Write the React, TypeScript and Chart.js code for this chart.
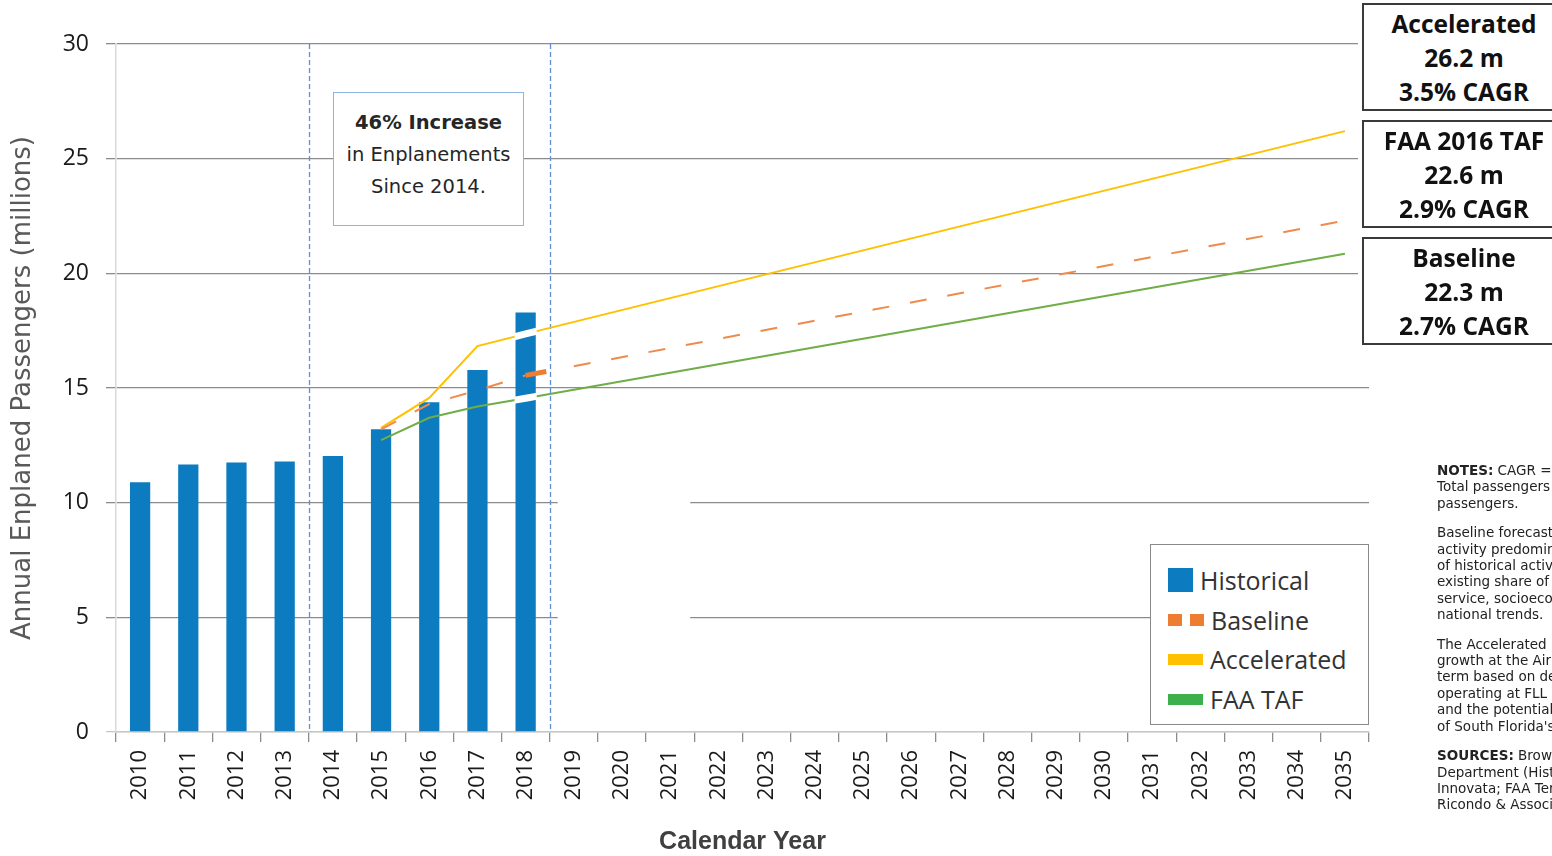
import React, { useEffect, useRef } from "react";
import { Chart, registerables } from "chart.js";

Chart.register(...registerables);

// ---------- data ----------
const years = [
  "2010", "2011", "2012", "2013", "2014", "2015", "2016", "2017", "2018",
  "2019", "2020", "2021", "2022", "2023", "2024", "2025", "2026", "2027",
  "2028", "2029", "2030", "2031", "2032", "2033", "2034", "2035",
];

const historical: (number | null)[] = [
  10.89, 11.66, 11.75, 11.79, 12.04, 13.2, 14.38, 15.79, 18.29,
  null, null, null, null, null, null, null, null, null,
  null, null, null, null, null, null, null, null,
];

const baseline: (number | null)[] = [
  null, null, null, null, null, 13.2, 14.3, 14.9, 15.55,
  15.95, null, null, null, null, null, null, null, null,
  null, null, null, null, null, null, null, 22.3,
];

const accelerated: (number | null)[] = [
  null, null, null, null, null, 13.26, 14.57, 16.83, 17.36,
  null, null, null, null, null, null, null, null, null,
  null, null, null, null, null, null, null, 26.2,
];

const faaTaf: (number | null)[] = [
  null, null, null, null, null, 12.73, 13.7, 14.19, 14.55,
  null, null, null, null, null, null, null, null, null,
  null, null, null, null, null, null, null, 20.85,
];

const seriesLabels = ["Historical", "Baseline", "Accelerated", "FAA TAF"];
const yTicksMax = 30;
const yTickStep = 5;
const yTitle = "Annual Enplaned Passengers (millions)";
const xTitle = "Calendar Year";
const increaseSinceYear = "2014";
const annotationLines = ["46% Increase", "in Enplanements", "Since 2014."];
const forecastBoxes = [
  ["Accelerated", "26.2 m", "3.5% CAGR"],
  ["FAA 2016 TAF", "22.6 m", "2.9% CAGR"],
  ["Baseline", "22.3 m", "2.7% CAGR"],
];
const notes: { bold?: string; lines: string[] }[] = [
  { bold: "NOTES:", lines: [" CAGR = Compound", "Total passengers", "passengers."] },
  {
    lines: [
      "Baseline forecast",
      "activity predominantly",
      "of historical activity",
      "existing share of South",
      "service, socioeconomic",
      "national trends.",
    ],
  },
  {
    lines: [
      "The Accelerated",
      "growth at the Airport",
      "term based on demand",
      "operating at FLL",
      "and the potential",
      "of South Florida's",
    ],
  },
  { bold: "SOURCES:", lines: ["  Broward", "Department (Historical)", "Innovata; FAA Terminal", "Ricondo & Associates"] },
];

// ---------- styles ----------
const BLUE = "#0c7bc0";
const ORANGE_LINE = "#ef8a4c";
const ORANGE = "#ed7d31";
const YELLOW = "#ffc000";
const GREEN_LINE = "#70ad47";
const legendColors = [BLUE, ORANGE, YELLOW, "#3cb04a"];

const lastHistIdx = (() => {
  let k = -1;
  historical.forEach((v, i) => {
    if (v != null) k = i;
  });
  return k;
})();

const overlayPlugin = {
  id: "overlayPlugin",
  beforeDatasetsDraw(chart: any) {
    const { ctx, chartArea } = chart;
    const xs = chart.scales.x;
    const ys = chart.scales.y;
    const half = (xs.getPixelForValue(1) - xs.getPixelForValue(0)) / 2;
    ctx.save();
    // gap in the lower gridlines right of the forecast start
    const gx0 = xs.getPixelForValue(lastHistIdx) + half + 8;
    const gx1 = xs.getPixelForValue(lastHistIdx + 3) + 20;
    const gy0 = ys.getPixelForValue(12.5);
    const gy1 = ys.getPixelForValue(3.5);
    ctx.fillStyle = "#ffffff";
    ctx.fillRect(gx0, gy0, gx1 - gx0, gy1 - gy0);
    // vertical dashed markers
    const markers = [
      xs.getPixelForValue(years.indexOf(increaseSinceYear)) - half,
      xs.getPixelForValue(lastHistIdx) + half,
    ];
    ctx.strokeStyle = "#5b8ed6";
    ctx.lineWidth = 1.3;
    ctx.setLineDash([5, 3]);
    markers.forEach((mx) => {
      ctx.beginPath();
      ctx.moveTo(Math.round(mx) + 0.5, chartArea.top);
      ctx.lineTo(Math.round(mx) + 0.5, chartArea.bottom);
      ctx.stroke();
    });
    ctx.restore();
  },
  afterDatasetsDraw(chart: any) {
    // white halo where accelerated / FAA TAF cross the last historical bar
    const { ctx } = chart;
    const barMeta = chart.getDatasetMeta(0);
    const bar = barMeta.data[lastHistIdx];
    if (!bar) return;
    const { x, y, base, width } = bar.getProps(["x", "y", "base", "width"], true);
    ctx.save();
    ctx.beginPath();
    ctx.rect(x - width / 2 - 1, y, width + 2, base - y);
    ctx.clip();
    [2, 3].forEach((di) => {
      const pts = chart.getDatasetMeta(di).data.filter((p: any) => !p.skip);
      ctx.beginPath();
      pts.forEach((p: any, i: number) => (i === 0 ? ctx.moveTo(p.x, p.y) : ctx.lineTo(p.x, p.y)));
      ctx.strokeStyle = "#ffffff";
      ctx.lineWidth = 7;
      ctx.stroke();
    });
    ctx.restore();
  },
};

export default function App() {
  const ref = useRef<HTMLCanvasElement>(null);

  useEffect(() => {
    if (!ref.current) return;
    const chart = new Chart(ref.current, {
      type: "bar",
      data: {
        labels: years,
        datasets: [
          {
            type: "bar",
            label: seriesLabels[0],
            data: historical,
            backgroundColor: BLUE,
            barPercentage: 0.42,
            categoryPercentage: 1,
            order: 1,
          },
          {
            type: "line",
            label: seriesLabels[1],
            data: baseline,
            borderColor: ORANGE_LINE,
            borderWidth: 2,
            borderDash: [17, 21],
            pointRadius: 0,
            spanGaps: true,
            tension: 0,
            order: 0,
            segment: {
              borderWidth: (c: any) => (c.p0DataIndex === lastHistIdx ? 5 : undefined),
              borderDash: (c: any) => (c.p0DataIndex === lastHistIdx ? [21, 400] : undefined),
              borderColor: (c: any) => (c.p0DataIndex === lastHistIdx ? ORANGE : undefined),
            },
          } as any,
          {
            type: "line",
            label: seriesLabels[2],
            data: accelerated,
            borderColor: YELLOW,
            borderWidth: 2,
            pointRadius: 0,
            spanGaps: true,
            tension: 0,
            order: 0,
          },
          {
            type: "line",
            label: seriesLabels[3],
            data: faaTaf,
            borderColor: GREEN_LINE,
            borderWidth: 2,
            pointRadius: 0,
            spanGaps: true,
            tension: 0,
            order: 0,
          },
        ],
      },
      options: {
        animation: false,
        responsive: true,
        maintainAspectRatio: false,
        layout: { padding: { left: 0, right: 183, top: 44, bottom: 0 } },
        plugins: { legend: { display: false }, tooltip: { enabled: false } },
        scales: {
          x: {
            type: "category",
            offset: true,
            grid: {
              display: true,
              drawOnChartArea: false,
              drawTicks: true,
              tickLength: 10,
              offset: true,
              color: "#8c8c8c",
              lineWidth: 1.3,
            },
            border: { display: true, color: "#c8c8c8", width: 1.5 },
            ticks: {
              autoSkip: false,
              maxRotation: 90,
              minRotation: 90,
              padding: 8,
              color: "#1a1a1a",
              font: { family: "Open Sans", size: 22 },
            },
            title: {
              display: true,
              text: xTitle,
              color: "#404040",
              font: { family: "Liberation Sans", size: 25, weight: "bold", lineHeight: 1 },
              padding: { top: 0, bottom: 1 },
            },
            afterFit: (s: any) => {
              s.height = 124;
            },
          },
          y: {
            min: 0,
            max: yTicksMax,
            ticks: {
              stepSize: yTickStep,
              padding: 17,
              color: "#1a1a1a",
              font: { family: "Open Sans", size: 23 },
            },
            grid: {
              color: (c: any) => (c.tick && c.tick.value === 0 ? "#c8c8c8" : "#8c8c8c"),
              lineWidth: 1.3,
              tickLength: 10,
              drawTicks: true,
            },
            border: { display: true, color: "#d9d9d9", width: 1.5 },
            title: {
              display: true,
              text: yTitle,
              color: "#595959",
              font: { family: "DejaVu Sans", size: 26, lineHeight: 1.2 },
              padding: { top: 8, bottom: 0 },
            },
            afterFit: (s: any) => {
              s.width = 116;
            },
          },
        },
      } as any,
      plugins: [overlayPlugin],
    });
    return () => chart.destroy();
  }, []);

  const swatch = (i: number) => {
    if (i === 0)
      return <div style={{ width: 25, height: 24, background: legendColors[0] }} />;
    if (i === 1)
      return (
        <div style={{ display: "flex", gap: 8, width: 36 }}>
          <div style={{ width: 14, height: 12, background: legendColors[1] }} />
          <div style={{ width: 14, height: 12, background: legendColors[1] }} />
        </div>
      );
    return <div style={{ width: 35, height: 11, background: legendColors[i] }} />;
  };

  return (
    <div
      style={{
        position: "fixed",
        left: 0,
        top: 0,
        width: 1552,
        height: 856,
        overflow: "hidden",
        background: "#ffffff",
      }}
    >
      <div style={{ position: "absolute", left: 0, top: 0, width: 1552, height: 856 }}>
        <canvas ref={ref} />
      </div>

      {/* annotation box */}
      <div
        style={{
          position: "absolute",
          left: 333,
          top: 92,
          width: 191,
          height: 134,
          boxSizing: "border-box",
          border: "1.5px solid #8db4e2",
          background: "#ffffff",
          fontFamily: "DejaVu Sans",
          fontSize: 19.5,
          lineHeight: "32px",
          color: "#262626",
          textAlign: "center",
          paddingTop: 14,
          whiteSpace: "nowrap",
        }}
      >
        {annotationLines.map((t, i) => (
          <div key={i} style={{ fontWeight: i === 0 ? 700 : 400 }}>
            {t}
          </div>
        ))}
      </div>

      {/* forecast boxes */}
      {forecastBoxes.map((lines, bi) => (
        <div
          key={bi}
          style={{
            position: "absolute",
            left: 1362,
            top: 3 + bi * 117,
            width: 204,
            height: 108,
            boxSizing: "border-box",
            border: "2px solid #3a3a3a",
            outline: "4px solid #ffffff",
            background: "#ffffff",
            fontFamily: "Open Sans",
            fontWeight: 700,
            fontSize: 24.5,
            lineHeight: "34px",
            color: "#111111",
            textAlign: "center",
            paddingTop: 2,
            whiteSpace: "nowrap",
          }}
        >
          {lines.map((t, i) => (
            <div key={i}>{t}</div>
          ))}
        </div>
      ))}

      {/* legend */}
      <div
        style={{
          position: "absolute",
          left: 1150,
          top: 544,
          width: 219,
          height: 181,
          boxSizing: "border-box",
          border: "1.5px solid #8a8a8a",
          background: "#ffffff",
          fontFamily: "Open Sans",
          fontSize: 25,
          color: "#333333",
        }}
      >
        {seriesLabels.map((lab, i) => (
          <div
            key={lab}
            style={{
              position: "absolute",
              left: 17,
              top: 15 + i * 39.7,
              height: 40,
              display: "flex",
              alignItems: "center",
              gap: 7,
              whiteSpace: "nowrap",
            }}
          >
            {swatch(i)}
            <span style={{ lineHeight: "40px" }}>{lab}</span>
          </div>
        ))}
      </div>

      {/* notes */}
      <div
        style={{
          position: "absolute",
          left: 1437,
          top: 462,
          fontFamily: "DejaVu Sans",
          fontSize: 13.5,
          lineHeight: "16.4px",
          color: "#222222",
          whiteSpace: "nowrap",
        }}
      >
        {notes.map((p, pi) => (
          <div key={pi} style={{ marginBottom: 13 }}>
            {p.lines.map((l, li) => (
              <div key={li}>
                {li === 0 && p.bold ? <b>{p.bold}</b> : null}
                {l}
              </div>
            ))}
          </div>
        ))}
      </div>
    </div>
  );
}
